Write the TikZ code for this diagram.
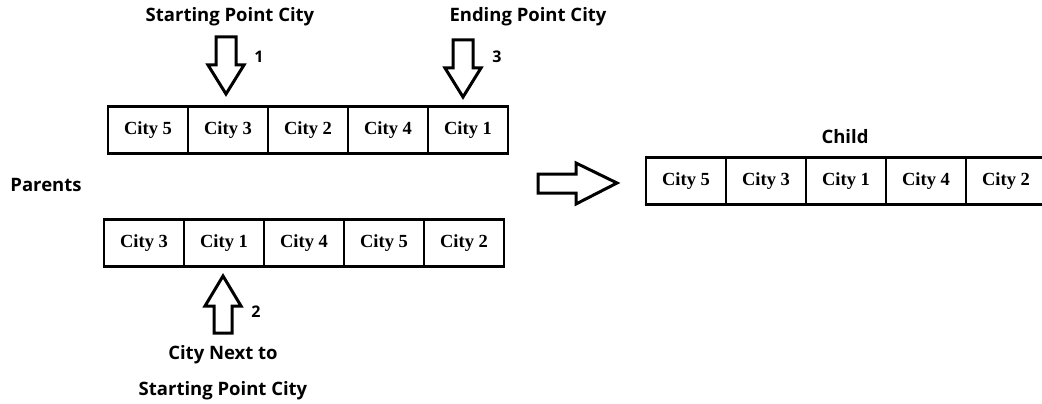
\documentclass[tikz,border=0pt]{standalone}
\usepackage{fontspec}
\setmainfont{Liberation Serif}
\newfontfamily\labelfont{Open Sans}
\begin{document}
\begin{tikzpicture}[x=1pt,y=-1pt,
  cell/.style={draw=black,line width=2.4pt,minimum width=80pt,minimum height=47pt,
    inner sep=0pt,font=\fontsize{18.5}{18.5}\selectfont\bfseries},
  caption/.style={font=\labelfont\fontsize{18.5}{18.5}\selectfont\bfseries,inner sep=0pt},
  stepno/.style={font=\labelfont\fontsize{16}{16}\selectfont\bfseries,inner sep=0pt},
  blockarrow/.style={draw=black,line width=3pt,fill=white,line join=miter}]
\useasboundingbox (0,0) rectangle (1042,404);
\clip (0,0) rectangle (1042,404);

% first parent
\foreach \c [count=\i] in {5,3,2,4,1}
  \node[cell] (pa\i) at ({68+80*\i},130) {City \c};
% second parent
\foreach \c [count=\i] in {3,1,4,5,2}
  \node[cell] (pb\i) at ({64+80*\i},243) {City \c};
% child
\foreach \c [count=\i] in {5,3,1,4,2}
  \node[cell] (ch\i) at ({606+80*\i},181) {City \c};

% captions
\node[caption] (start) at (230,17) {Starting Point City};
\node[caption] (end) at (528,17) {Ending Point City};
\node[caption] (parents) at (46,185) {Parents};
\node[caption] (child) at (845,137) {Child};
\node[caption] (next1) at (223,355) {City Next to};
\node[caption] (next2) at (223,391) {Starting Point City};

% step numbers
\node[stepno] (n1) at (259,57) {1};
\node[stepno] (n3) at (497,57) {3};
\node[stepno] (n2) at (256,312) {2};

% block arrows pointing at the chosen cities
\draw[blockarrow] (216,37) -- (236,37) -- (236,65) -- (244,65) -- (226,94)
  -- (208,65) -- (216,65) -- cycle;
\draw[blockarrow] (453,40) -- (473,40) -- (473,68) -- (481,68) -- (463,97)
  -- (445,68) -- (453,68) -- cycle;
\draw[blockarrow] (214,333) -- (232,333) -- (232,306) -- (241,306) -- (223,276)
  -- (205,306) -- (214,306) -- cycle;
% arrow from parents to child
\draw[blockarrow] (538,174) -- (576,174) -- (576,163) -- (617,183) -- (576,204)
  -- (576,193) -- (538,193) -- cycle;
\end{tikzpicture}
\end{document}
